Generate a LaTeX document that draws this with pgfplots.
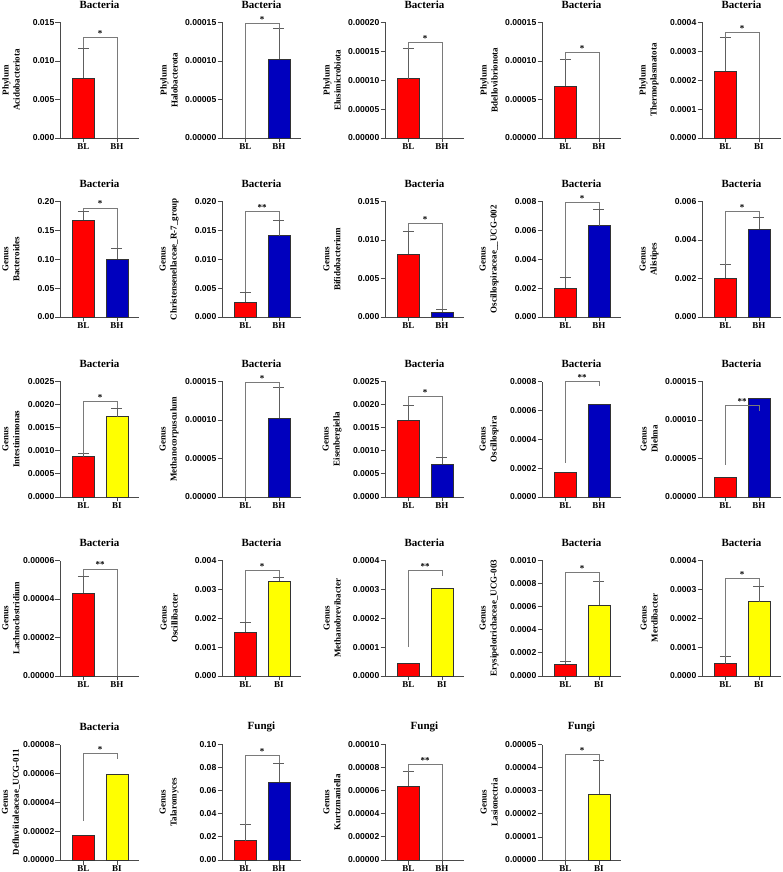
\documentclass[border=0pt]{standalone}
\usepackage{fontspec}
\setmainfont{Liberation Serif}
\setsansfont{Liberation Sans}
\usepackage{pgfplots}
\pgfplotsset{compat=1.18}
\definecolor{axc}{HTML}{4A4A4A}
\definecolor{errc}{HTML}{5E5E5E}
\definecolor{brkc}{HTML}{7A7A7A}
\definecolor{barblue}{HTML}{0000BE}
\definecolor{baryellow}{HTML}{FFFF00}
\definecolor{barred}{HTML}{FF0000}
\pgfplotsset{
  panel/.style={
    scale only axis, width=79pt, height=115.5pt, anchor=south west,
    xmin=-0.70, xmax=1.66, ymin=0, clip=false,
    axis lines=left, axis line style={-, draw=axc, line width=0.8pt},
    tick align=outside, major tick length=4.5pt,
    tick style={draw=axc, line width=0.8pt},
    xtick={0,1}, scaled y ticks=false,
    yticklabel style={font=\sffamily\bfseries\fontsize{8.6}{10}\selectfont, inner sep=1pt,
      /pgf/number format/.cd, fixed, fixed zerofill, assume math mode=true},
    xticklabel style={font=\bfseries\fontsize{9}{10}\selectfont, inner sep=1pt},
    title style={font=\bfseries\fontsize{11}{12}\selectfont, at={(axis description cs:0.5,1.103)}, anchor=center},
    ylabel style={font=\bfseries\fontsize{9}{11}\selectfont, align=center, at={(axis description cs:-0.67,0.5)}, anchor=center},
  },
  c1/.style={ylabel style={at={(axis description cs:-0.62,0.5)}}},
  prec/.style={yticklabel style={/pgf/number format/precision=#1}},
  barsty/.style={ybar, bar width=22pt, bar shift=0pt, draw=black!80, line width=0.6pt},
  rb/.style={barsty, fill=barred},
  bb/.style={barsty, fill=barblue},
  yb/.style={barsty, fill=baryellow},
  errl/.style={sharp plot, draw=errc, line width=0.8pt, mark=none, forget plot},
  brk/.style={sharp plot, draw=brkc, line width=0.8pt, mark=none, forget plot},
}
% bracket: left leg bottom, right leg bottom, height, stars
\newcommand{\sig}[4]{%
  \addplot[brk] coordinates {(0,#1) (0,#3) (1,#3) (1,#2)};
  \node[font=\bfseries\fontsize{9}{10}\selectfont, anchor=south, inner sep=1pt] at (axis cs:0.5,#3) {#4};}
% one-sided error bars (mean, top) at BL (x=0) and at the second group (x=1)
\newcommand{\ebL}[2]{%
  \addplot[errl] coordinates {(0,#1) (0,#2)};
  \addplot[errl] coordinates {(-0.164,#2) (0.164,#2)};}
\newcommand{\ebR}[2]{%
  \addplot[errl] coordinates {(1,#1) (1,#2)};
  \addplot[errl] coordinates {(0.836,#2) (1.164,#2)};}
\begin{document}
\begin{tikzpicture}
\useasboundingbox (0,0) rectangle (782pt,872pt);
% ---------------- Row 1
\begin{axis}[panel, c1, at={(60pt,734pt)}, title={Bacteria}, ylabel={Phylum\\Acidobacteriota},
  ymax=0.015, ytick={0,0.005,0.010,0.015}, prec=3, xticklabels={BL,BH}]
\addplot[rb] coordinates {(0,0.00773)};
\ebL{0.00773}{0.01167}
\sig{0.0117}{0}{0.0130}{*}
\end{axis}
\begin{axis}[panel, at={(222pt,734pt)}, title={Bacteria}, ylabel={Phylum\\Halobacterota},
  ymax=0.00015, ytick={0,0.00005,0.0001,0.00015}, prec=5, xticklabels={BL,BH}]
\addplot[bb] coordinates {(1,0.0001024)};
\ebR{0.0001024}{0.000142}
\sig{0}{0.000142}{0.000149}{*}
\end{axis}
\begin{axis}[panel, at={(385pt,734pt)}, title={Bacteria}, ylabel={Phylum\\Elusimicrobiota},
  ymax=0.0002, ytick={0,0.00005,0.0001,0.00015,0.0002}, prec=5, xticklabels={BL,BH}]
\addplot[rb] coordinates {(0,0.0001025)};
\ebL{0.0001025}{0.0001544}
\sig{0.000154}{0}{0.000165}{*}
\end{axis}
\begin{axis}[panel, at={(542pt,734pt)}, title={Bacteria}, ylabel={Phylum\\Bdellovibrionota},
  ymax=0.00015, ytick={0,0.00005,0.0001,0.00015}, prec=5, xticklabels={BL,BH}]
\addplot[rb] coordinates {(0,0.0000669)};
\ebL{0.0000669}{0.0001015}
\sig{0.0001015}{0}{0.0001106}{*}
\end{axis}
\begin{axis}[panel, at={(702pt,734pt)}, title={Bacteria}, ylabel={Phylum\\Thermoplasmatota},
  ymax=0.0004, ytick={0,0.0001,0.0002,0.0003,0.0004}, prec=4, xticklabels={BL,BI}]
\addplot[rb] coordinates {(0,0.0002303)};
\ebL{0.0002303}{0.0003478}
\sig{0.000348}{0}{0.000366}{*}
\end{axis}
% ---------------- Row 2
\begin{axis}[panel, c1, at={(60pt,555pt)}, title={Bacteria}, ylabel={Genus\\Bacteroides},
  ymax=0.20, ytick={0,0.05,0.10,0.15,0.20}, prec=2, xticklabels={BL,BH}]
\addplot[rb] coordinates {(0,0.1671)};
\addplot[bb] coordinates {(1,0.1003)};
\ebL{0.1671}{0.1827}
\ebR{0.1003}{0.1193}
\sig{0.1827}{0.1193}{0.1885}{*}
\end{axis}
\begin{axis}[panel, at={(222pt,555pt)}, title={Bacteria}, ylabel={Genus\\Christensenellaceae\_R-7\_group},
  ymax=0.020, ytick={0,0.005,0.010,0.015,0.020}, prec=3, xticklabels={BL,BH}]
\addplot[rb] coordinates {(0,0.00254)};
\addplot[bb] coordinates {(1,0.01406)};
\ebL{0.00254}{0.00432}
\ebR{0.01406}{0.01677}
\sig{0.00432}{0.01677}{0.01827}{**}
\end{axis}
\begin{axis}[panel, at={(385pt,555pt)}, title={Bacteria}, ylabel={Genus\\Bifidobacterium},
  ymax=0.015, ytick={0,0.005,0.010,0.015}, prec=3, xticklabels={BL,BH}]
\addplot[rb] coordinates {(0,0.00813)};
\addplot[bb] coordinates {(1,0.00065)};
\ebL{0.00813}{0.01115}
\ebR{0.00065}{0.0010}
\sig{0.01115}{0.001}{0.0121}{*}
\end{axis}
\begin{axis}[panel, at={(542pt,555pt)}, title={Bacteria}, ylabel={Genus\\Oscillospiraceae\_\_UCG-002},
  ymax=0.008, ytick={0,0.002,0.004,0.006,0.008}, prec=3, xticklabels={BL,BH}]
\addplot[rb] coordinates {(0,0.0020)};
\addplot[bb] coordinates {(1,0.00632)};
\ebL{0.0020}{0.00277}
\ebR{0.00632}{0.00747}
\sig{0.00277}{0.00747}{0.00795}{*}
\end{axis}
\begin{axis}[panel, at={(702pt,555pt)}, title={Bacteria}, ylabel={Genus\\Alistipes},
  ymax=0.006, ytick={0,0.002,0.004,0.006}, prec=3, xticklabels={BL,BH}]
\addplot[rb] coordinates {(0,0.0020)};
\addplot[bb] coordinates {(1,0.00458)};
\ebL{0.0020}{0.00271}
\ebR{0.00458}{0.00517}
\sig{0.00271}{0.00517}{0.00548}{*}
\end{axis}
% ---------------- Row 3
\begin{axis}[panel, c1, at={(60pt,375pt)}, title={Bacteria}, ylabel={Genus\\Intestinimonas},
  ymax=0.0025, ytick={0,0.0005,0.0010,0.0015,0.0020,0.0025}, prec=4, xticklabels={BL,BI}]
\addplot[rb] coordinates {(0,0.000876)};
\addplot[yb] coordinates {(1,0.00174)};
\ebL{0.000876}{0.000934}
\ebR{0.00174}{0.001925}
\sig{0.000934}{0.001925}{0.00206}{*}
\end{axis}
\begin{axis}[panel, at={(222pt,375pt)}, title={Bacteria}, ylabel={Genus\\Methanocorpusculum},
  ymax=0.00015, ytick={0,0.00005,0.0001,0.00015}, prec=5, xticklabels={BL,BH}]
\addplot[bb] coordinates {(1,0.0001026)};
\ebR{0.0001026}{0.0001422}
\sig{0}{0.000142}{0.000149}{*}
\end{axis}
\begin{axis}[panel, at={(385pt,375pt)}, title={Bacteria}, ylabel={Genus\\Eisenbergiella},
  ymax=0.0025, ytick={0,0.0005,0.0010,0.0015,0.0020,0.0025}, prec=4, xticklabels={BL,BH}]
\addplot[rb] coordinates {(0,0.001667)};
\addplot[bb] coordinates {(1,0.000718)};
\ebL{0.001667}{0.00199}
\ebR{0.000718}{0.000862}
\sig{0.00199}{0.000862}{0.002177}{*}
\end{axis}
\begin{axis}[panel, at={(542pt,375pt)}, title={Bacteria}, ylabel={Genus\\Oscillospira},
  ymax=0.0008, ytick={0,0.0002,0.0004,0.0006,0.0008}, prec=4, xticklabels={BL,BH}]
\addplot[rb] coordinates {(0,0.000168)};
\addplot[bb] coordinates {(1,0.000641)};
\sig{0.000237}{0.000766}{0.000798}{**}
\end{axis}
\begin{axis}[panel, at={(702pt,375pt)}, title={Bacteria}, ylabel={Genus\\Dielma},
  ymax=0.00015, ytick={0,0.00005,0.0001,0.00015}, prec=5, xticklabels={BL,BH}]
\addplot[rb] coordinates {(0,0.0000254)};
\addplot[bb] coordinates {(1,0.000128)};
\sig{0.0000418}{0.000112}{0.000119}{**}
\end{axis}
% ---------------- Row 4
\begin{axis}[panel, c1, at={(60pt,196pt)}, title={Bacteria}, ylabel={Genus\\Lachnoclostridium},
  ymax=0.00006, ytick={0,0.00002,0.00004,0.00006}, prec=5, xticklabels={BL,BH}]
\addplot[rb] coordinates {(0,0.00004305)};
\ebL{0.00004305}{0.0000517}
\sig{0.0000517}{0}{0.0000555}{**}
\end{axis}
\begin{axis}[panel, at={(222pt,196pt)}, title={Bacteria}, ylabel={Genus\\Oscillibacter},
  ymax=0.004, ytick={0,0.001,0.002,0.003,0.004}, prec=3, xticklabels={BL,BI}]
\addplot[rb] coordinates {(0,0.00152)};
\addplot[yb] coordinates {(1,0.003274)};
\ebL{0.00152}{0.00187}
\ebR{0.003274}{0.003424}
\sig{0.00187}{0.003424}{0.003654}{*}
\end{axis}
\begin{axis}[panel, at={(385pt,196pt)}, title={Bacteria}, ylabel={Genus\\Methanobrevibacter},
  ymax=0.0004, ytick={0,0.0001,0.0002,0.0003,0.0004}, prec=4, xticklabels={BL,BI}]
\addplot[rb] coordinates {(0,0.0000427)};
\addplot[yb] coordinates {(1,0.000302)};
\sig{0.0001}{0.000345}{0.000364}{**}
\end{axis}
\begin{axis}[panel, at={(542pt,196pt)}, title={Bacteria}, ylabel={Genus\\Erysipelotrichaceae\_UCG-003},
  ymax=0.0010, ytick={0,0.0002,0.0004,0.0006,0.0008,0.0010}, prec=4, xticklabels={BL,BI}]
\addplot[rb] coordinates {(0,0.000101)};
\addplot[yb] coordinates {(1,0.000611)};
\ebL{0.000101}{0.00013}
\ebR{0.000611}{0.000818}
\sig{0.00013}{0.000818}{0.000896}{*}
\end{axis}
\begin{axis}[panel, at={(702pt,196pt)}, title={Bacteria}, ylabel={Genus\\Merdibacter},
  ymax=0.0004, ytick={0,0.0001,0.0002,0.0003,0.0004}, prec=4, xticklabels={BL,BI}]
\addplot[rb] coordinates {(0,0.0000427)};
\addplot[yb] coordinates {(1,0.000258)};
\ebL{0.0000427}{0.0000669}
\ebR{0.000258}{0.00031}
\sig{0.0000669}{0.00031}{0.000337}{*}
\end{axis}
% ---------------- Row 5
\begin{axis}[panel, c1, at={(60pt,12pt)}, title={Bacteria}, ylabel={Genus\\Defluviitaleaceae\_UCG-011},
  ymax=0.00008, ytick={0,0.00002,0.00004,0.00006,0.00008}, prec=5, xticklabels={BL,BI}]
\addplot[rb] coordinates {(0,0.0000171)};
\addplot[yb] coordinates {(1,0.0000597)};
\sig{0.0000272}{0.0000702}{0.0000736}{*}
\end{axis}
\begin{axis}[panel, at={(222pt,12pt)}, title={Fungi}, ylabel={Genus\\Talaromyces},
  ymax=0.10, ytick={0,0.02,0.04,0.06,0.08,0.10}, prec=2, xticklabels={BL,BH}]
\addplot[rb] coordinates {(0,0.01686)};
\addplot[bb] coordinates {(1,0.0674)};
\ebL{0.01686}{0.0306}
\ebR{0.0674}{0.0837}
\sig{0.0306}{0.0837}{0.0906}{*}
\end{axis}
\begin{axis}[panel, at={(385pt,12pt)}, title={Fungi}, ylabel={Genus\\Kurtzmaniella},
  ymax=0.0001, ytick={0,0.00002,0.00004,0.00006,0.00008,0.0001}, prec=5, xticklabels={BL,BH}]
\addplot[rb] coordinates {(0,0.000064)};
\ebL{0.000064}{0.0000763}
\sig{0.0000763}{0}{0.0000826}{**}
\end{axis}
\begin{axis}[panel, at={(542pt,12pt)}, title={Fungi}, ylabel={Genus\\Lasionectria},
  ymax=0.00005, ytick={0,0.00001,0.00002,0.00003,0.00004,0.00005}, prec=5, xticklabels={BL,BI}]
\addplot[yb] coordinates {(1,0.0000284)};
\ebR{0.0000284}{0.000043}
\sig{0}{0.000043}{0.0000457}{*}
\end{axis}
\end{tikzpicture}
\end{document}
